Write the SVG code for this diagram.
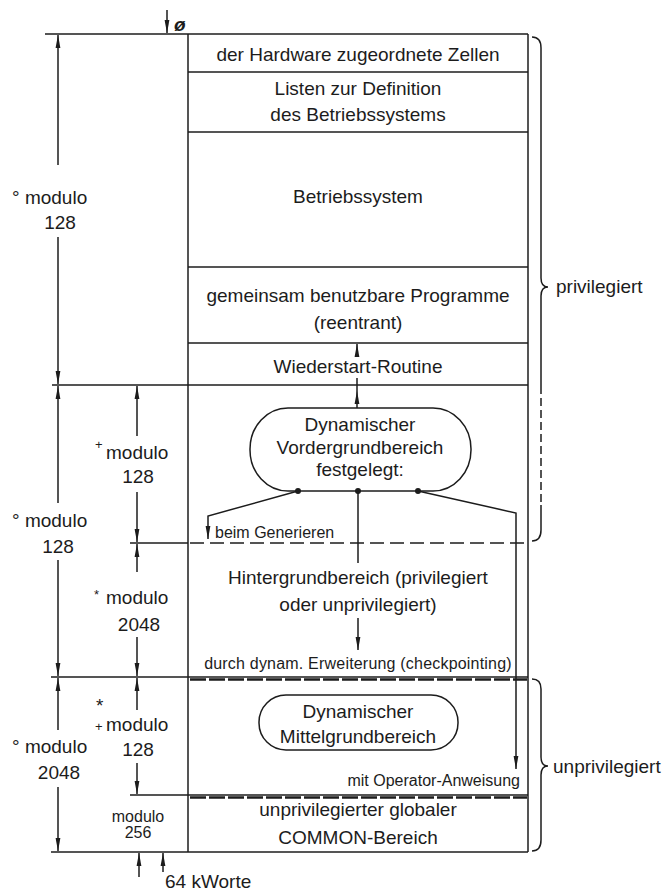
<svg xmlns="http://www.w3.org/2000/svg" width="670" height="891" viewBox="0 0 670 891">
<defs>
<marker id="ah" viewBox="0 0 13 6" refX="13" refY="3" markerWidth="13" markerHeight="6" orient="auto-start-reverse" markerUnits="userSpaceOnUse"><path d="M0,0.6 L13,3 L0,5.4 Z" fill="#1c1c1c"/></marker>
</defs>
<style>
.t{font-family:"Liberation Sans",Arial,sans-serif;font-size:19px;fill:#1c1c1c}
.c{text-anchor:middle}
.s{font-size:16px}
.xs{font-size:16px}
.sup{font-size:13px}
.ln{stroke:#1c1c1c;stroke-width:1.5;fill:none}
.dash{stroke-dasharray:14 6}
.hd{stroke:#1c1c1c;stroke-width:2.4;stroke-dasharray:16 3;fill:none}
.dot{fill:#1c1c1c}
</style>
<rect width="670" height="891" fill="#fff"/>

<g id="frame" class="ln">
<line x1="45" y1="34" x2="528" y2="34"/>
<line x1="188" y1="34" x2="188" y2="852"/>
<line x1="528" y1="34" x2="528" y2="852"/>
<line x1="51" y1="852" x2="528" y2="852"/>
</g>

<g id="cell-hardware">
<text class="t c" x="358" y="61">der Hardware zugeordnete Zellen</text>
<line class="ln" x1="188" y1="72" x2="528" y2="72"/>
</g>
<g id="cell-listen">
<text class="t c" x="358" y="95">Listen zur Definition</text>
<text class="t c" x="358" y="121">des Betriebssystems</text>
<line class="ln" x1="188" y1="132" x2="528" y2="132"/>
</g>
<g id="cell-betriebssystem">
<text class="t c" x="358" y="203">Betriebssystem</text>
<line class="ln" x1="188" y1="267" x2="528" y2="267"/>
</g>
<g id="cell-programme">
<text class="t c" x="358" y="302">gemeinsam benutzbare Programme</text>
<text class="t c" x="358" y="329">(reentrant)</text>
<line class="ln" x1="188" y1="343" x2="528" y2="343"/>
</g>
<g id="cell-wiederstart">
<text class="t c" x="358" y="373">Wiederstart-Routine</text>
<line class="ln" x1="52" y1="385" x2="528" y2="385"/>
</g>
<g id="pill-vordergrund">
<rect class="ln" x="250" y="408" width="221" height="83" rx="38" ry="41"/>
<text class="t c" x="360" y="431">Dynamischer</text>
<text class="t c" x="360" y="454">Vordergrundbereich</text>
<text class="t c" x="360" y="476">festgelegt:</text>
</g>
<g id="boundary-generieren">
<line class="ln" x1="130" y1="543" x2="188" y2="543"/>
<line class="ln dash" x1="190" y1="543" x2="528" y2="543"/>
<text class="t s" x="215" y="538">beim Generieren</text>
</g>
<g id="cell-hintergrund">
<text class="t c" x="358" y="584">Hintergrundbereich (privilegiert</text>
<text class="t c" x="358" y="611">oder unprivilegiert)</text>
<text class="t c s" x="358" y="669" letter-spacing="0.2">durch dynam. Erweiterung (checkpointing)</text>
<line class="ln" x1="51" y1="677" x2="528" y2="677"/>
<line class="hd" x1="190" y1="679.5" x2="527" y2="679.5"/>
</g>
<g id="pill-mittelgrund">
<rect class="ln" x="259" y="695" width="199" height="55" rx="27" ry="27"/>
<text class="t c" x="358" y="718">Dynamischer</text>
<text class="t c" x="358" y="743">Mittelgrundbereich</text>
<text class="t s" x="520" y="786" text-anchor="end">mit Operator-Anweisung</text>
<line class="ln" x1="130" y1="795" x2="528" y2="795"/>
<line class="hd" x1="190" y1="797.5" x2="527" y2="797.5"/>
</g>
<g id="cell-common">
<text class="t c" x="358" y="816">unprivilegierter globaler</text>
<text class="t c" x="358" y="844">COMMON-Bereich</text>
</g>

<g id="connectors" class="ln">
<line x1="357" y1="408" x2="357" y2="391" marker-end="url(#ah)"/>
<line x1="357" y1="391" x2="357" y2="385"/>
<line x1="357" y1="385" x2="357" y2="378"/>
<line x1="357" y1="357" x2="357" y2="344" marker-end="url(#ah)"/>
<polyline points="298,491 208,516 208,539" marker-end="url(#ah)"/>
<line x1="358" y1="491" x2="358" y2="563"/>
<line x1="358" y1="618" x2="358" y2="650" marker-end="url(#ah)"/>
<polyline points="418,491 516,513 516,769" marker-end="url(#ah)"/>
<circle class="dot" cx="298" cy="491" r="3" stroke="none"/>
<circle class="dot" cx="358" cy="491" r="3" stroke="none"/>
<circle class="dot" cx="418" cy="491" r="3" stroke="none"/>
</g>

<g id="dimensions" class="ln">
<line x1="167" y1="10" x2="167" y2="33" marker-end="url(#ah)"/>
<line x1="58" y1="165" x2="58" y2="35" marker-end="url(#ah)"/>
<line x1="58" y1="237" x2="58" y2="384" marker-end="url(#ah)"/>
<line x1="58" y1="503" x2="58" y2="386" marker-end="url(#ah)"/>
<line x1="58" y1="560" x2="58" y2="676" marker-end="url(#ah)"/>
<line x1="58" y1="730" x2="58" y2="678" marker-end="url(#ah)"/>
<line x1="58" y1="787" x2="58" y2="851" marker-end="url(#ah)"/>
<line x1="137" y1="436" x2="137" y2="386" marker-end="url(#ah)"/>
<line x1="137" y1="492" x2="137" y2="542" marker-end="url(#ah)"/>
<line x1="137" y1="572" x2="137" y2="544" marker-end="url(#ah)"/>
<line x1="137" y1="637" x2="137" y2="676" marker-end="url(#ah)"/>
<line x1="137" y1="710" x2="137" y2="678" marker-end="url(#ah)"/>
<line x1="137" y1="763" x2="137" y2="794" marker-end="url(#ah)"/>
<line x1="139" y1="877" x2="139" y2="853" marker-end="url(#ah)"/>
<line x1="163" y1="872" x2="163" y2="853" marker-end="url(#ah)"/>
</g>

<g id="labels">
<text class="t" x="174" y="31" font-weight="bold" font-style="italic" font-size="21">ø</text>
<text class="t" x="12" y="204">° modulo</text>
<text class="t c" x="60" y="229">128</text>
<text class="t sup" x="95" y="449">+</text>
<text class="t" x="106" y="459">modulo</text>
<text class="t c" x="138" y="483">128</text>
<text class="t" x="12" y="527">° modulo</text>
<text class="t c" x="58" y="553">128</text>
<text class="t sup" x="94" y="599">*</text>
<text class="t" x="106" y="604">modulo</text>
<text class="t c" x="139" y="631">2048</text>
<text class="t" x="96" y="712" font-size="11">*</text>
<text class="t sup" x="95" y="731">+</text>
<text class="t" x="106" y="731">modulo</text>
<text class="t c" x="138" y="756">128</text>
<text class="t" x="12" y="753">° modulo</text>
<text class="t c" x="59" y="779">2048</text>
<text class="t c xs" x="138" y="822">modulo</text>
<text class="t c xs" x="138" y="838">256</text>
<text class="t" x="165" y="888" font-size="18">64 kWorte</text>
</g>

<g id="brace-privilegiert">
<path class="ln" d="M532,37 Q541,37 541,48 V278 Q541,287 548,287 Q541,287 541,296 V386"/>
<path class="ln" d="M541,386 V505" stroke-dasharray="8 4"/>
<path class="ln" d="M541,505 V530 Q541,541 532,541"/>
<text class="t" x="556" y="293" font-size="18">privilegiert</text>
</g>
<g id="brace-unprivilegiert">
<path class="ln" d="M532,679 Q541,679 541,689 V757 Q541,766 548,766 Q541,766 541,775 V840 Q541,851 532,851"/>
<text class="t" x="553" y="773" font-size="18">unprivilegiert</text>
</g>
</svg>
